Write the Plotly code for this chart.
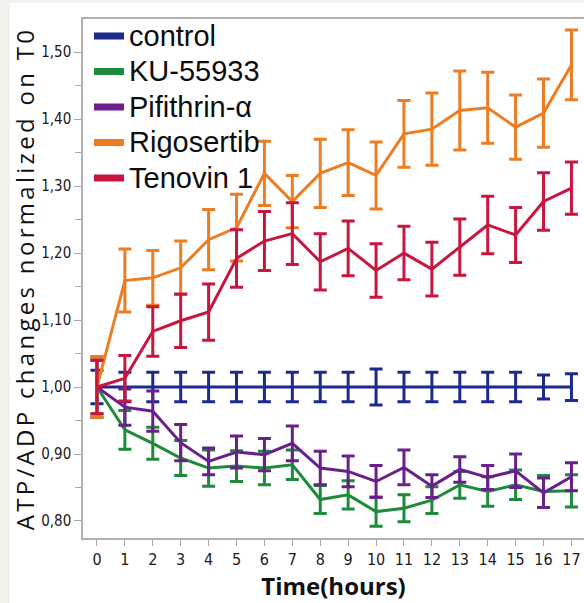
import plotly.graph_objects as go

hours = list(range(18))

control = [1.00] * 18
control_err = [0.025, 0.022, 0.022, 0.022, 0.022, 0.022, 0.022, 0.022, 0.022,
               0.022, 0.027, 0.022, 0.022, 0.022, 0.022, 0.022, 0.018, 0.020]

ku = [1.00, 0.936, 0.916, 0.894, 0.879, 0.882, 0.879, 0.884, 0.832, 0.839,
      0.814, 0.819, 0.831, 0.854, 0.844, 0.854, 0.844, 0.845]
ku_err = [0.040, 0.029, 0.024, 0.026, 0.027, 0.023, 0.025, 0.022, 0.021, 0.021,
          0.022, 0.020, 0.020, 0.020, 0.022, 0.022, 0.024, 0.024]

pif = [1.00, 0.970, 0.964, 0.917, 0.889, 0.903, 0.899, 0.916, 0.879, 0.874,
       0.859, 0.880, 0.852, 0.877, 0.865, 0.875, 0.842, 0.866]
pif_err = [0.045, 0.027, 0.030, 0.027, 0.020, 0.024, 0.024, 0.026, 0.025, 0.023,
           0.024, 0.026, 0.017, 0.019, 0.018, 0.025, 0.022, 0.021]

rigo = [1.00, 1.159, 1.163, 1.178, 1.220, 1.238, 1.319, 1.277, 1.319, 1.335,
        1.316, 1.378, 1.385, 1.413, 1.417, 1.388, 1.409, 1.481]
rigo_err = [0.045, 0.047, 0.041, 0.040, 0.045, 0.050, 0.048, 0.039, 0.051, 0.049,
            0.050, 0.050, 0.054, 0.059, 0.053, 0.048, 0.051, 0.052]

teno = [1.00, 1.013, 1.083, 1.099, 1.112, 1.192, 1.218, 1.229, 1.187, 1.207,
        1.174, 1.200, 1.176, 1.209, 1.242, 1.227, 1.277, 1.297]
teno_err = [0.040, 0.034, 0.037, 0.040, 0.042, 0.043, 0.044, 0.046, 0.042, 0.041,
            0.040, 0.040, 0.040, 0.042, 0.043, 0.041, 0.043, 0.039]

names = ["control", "KU-55933", "Pifithrin-\u03b1", "Rigosertib", "Tenovin 1"]
colors = ["#1c2a8e", "#1d8a3c", "#6a1f8c", "#ec7d22", "#c8163e"]
series = [control, ku, pif, rigo, teno]
errors = [control_err, ku_err, pif_err, rigo_err, teno_err]

y_ticks = [0.8, 0.9, 1.0, 1.1, 1.2, 1.3, 1.4, 1.5]

fig = go.Figure()

for name, col, ys, es in zip(names, colors, series, errors):
    fig.add_trace(go.Scatter(
        x=hours, y=ys, mode="lines", name=name, showlegend=False,
        line=dict(color=col, width=3),
        error_y=dict(type="data", array=es, visible=True, color=col,
                     thickness=3, width=6.5),
    ))

for name, col in zip(names, colors):
    fig.add_trace(go.Scatter(
        x=[None], y=[None], mode="lines",
        name='<span style="font-size:29px">' + name + '</span>',
        line=dict(color=col, width=7),
    ))

fig.add_shape(type="rect", xref="paper", yref="paper", layer="below",
              x0=-0.1457, x1=1.05, y0=-0.2, y1=1.0308,
              fillcolor="white", line=dict(width=0))

x_tick_font = dict(family="Liberation Sans Narrow, DejaVu Sans Condensed, Arial Narrow, sans-serif",
                   size=16, color="#1a1a1a")
y_tick_font = dict(family="Liberation Sans Narrow, DejaVu Sans Condensed, Arial Narrow, sans-serif",
                   size=15, color="#1a1a1a")

fig.update_layout(
    width=584, height=603,
    margin=dict(l=83, r=0, t=19, b=65),
    paper_bgcolor="#f2f1ec",
    plot_bgcolor="white",
    separators=",.",
    showlegend=True,
    legend=dict(
        x=0.012, y=1.011, xanchor="left", yanchor="top",
        bgcolor="rgba(0,0,0,0)", borderwidth=0,
        font=dict(family="Liberation Sans, Arial, sans-serif", size=25, color="#0d0d0d"),
        tracegroupgap=0, itemwidth=30,
    ),
    xaxis=dict(
        range=[-0.5, 17.45], tickmode="array", tickvals=hours,
        ticks="outside", ticklen=6, tickcolor="#a8a8a8", tickwidth=1,
        showline=True, linecolor="#b0b0b0", linewidth=1.5, mirror=True,
        showgrid=False, zeroline=False, tickfont=x_tick_font,
        title=dict(text="Time(hours)", standoff=10,
                   font=dict(family="Open Sans, sans-serif", size=24, color="#111111", weight="bold")),
    ),
    yaxis=dict(
        range=[0.7746, 1.5495], tickmode="array", tickvals=y_ticks, tickformat=".2f",
        ticks="outside", ticklen=7, tickcolor="#a8a8a8", tickwidth=1,
        minor=dict(dtick=0.05, tick0=0.0, ticks="outside", ticklen=6, tickcolor="#a8a8a8"),
        showline=True, linecolor="#b0b0b0", linewidth=1.5, mirror=False,
        showgrid=False, zeroline=False, tickfont=y_tick_font,
        title=dict(text='<span style="letter-spacing:3.3px">ATP/ADP changes normalized on T0</span>',
                   standoff=0,
                   font=dict(family="Open Sans, sans-serif", size=24, color="#111111")),
    ),
)

fig.write_html("out.html")
